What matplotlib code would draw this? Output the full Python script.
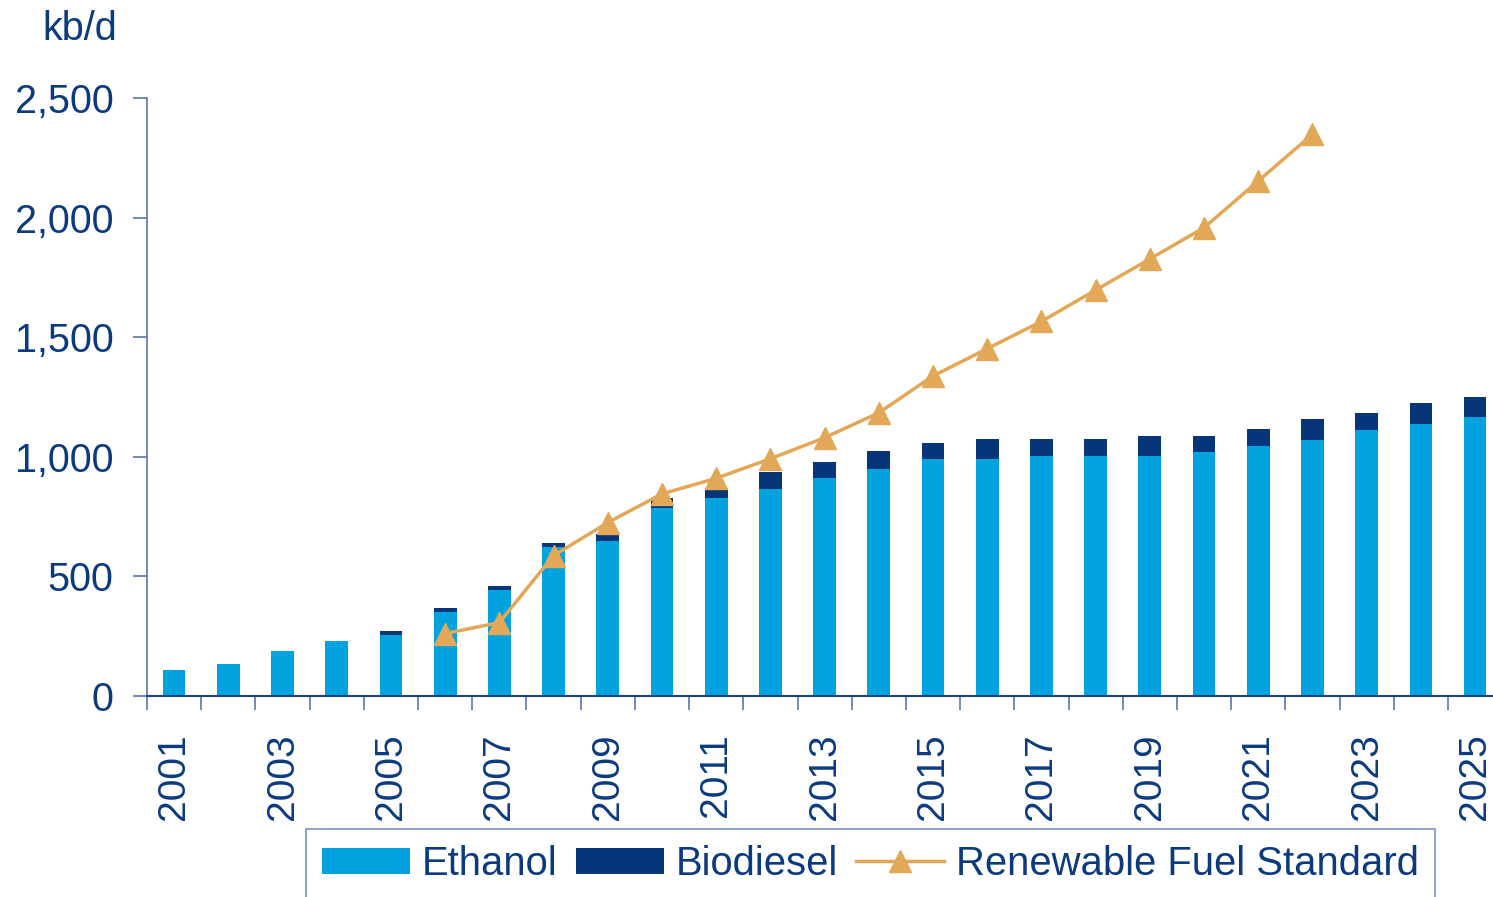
import numpy as np
import matplotlib.pyplot as plt

plt.rcParams['font.family'] = ['Liberation Sans', 'DejaVu Sans']

# US biofuel supply vs. the Renewable Fuel Standard mandate (kb/d)
years = list(range(2001, 2026))
ethanol = [109, 134, 188, 230, 255, 352, 444, 624, 649, 787, 829, 867, 913, 951,
           992, 992, 1005, 1005, 1005, 1018, 1047, 1072, 1114, 1139, 1168]
biodiesel = [0, 0, 0, 0, 17, 16, 17, 17, 29, 42, 34, 71, 67, 72,
             67, 84, 71, 71, 84, 71, 71, 84, 71, 84, 84]
rfs_years = list(range(2006, 2023))
rfs = [261, 307, 587, 725, 845, 910, 992, 1080, 1184, 1338, 1452, 1566, 1697,
       1827, 1958, 2153, 2349]

NAVY = '#0B3A7E'
ETH = '#00A3E0'
BIO = '#06357A'
RFS_C = '#E3A857'
AXIS_C = '#5A77A8'

fig = plt.figure(figsize=(14.93, 8.97), dpi=100)
ax = fig.add_axes([147 / 1493, 1 - 696 / 897, 1 - 147 / 1493, (696 - 98) / 897])

x = np.arange(len(years))
ax.bar(x, ethanol, width=0.42, color=ETH, label='Ethanol', zorder=2)
ax.bar(x, biodiesel, width=0.42, bottom=ethanol, color=BIO, label='Biodiesel', zorder=2)

rx = [years.index(y) for y in rfs_years]
ax.plot(rx, rfs, color=RFS_C, lw=2.5, marker='^', ms=16, mec=RFS_C, mfc=RFS_C,
        label='Renewable Fuel Standard', zorder=3)

ax.set_xlim(-0.5, 24.33)
ax.set_ylim(0, 2500)

for s in ['top', 'right']:
    ax.spines[s].set_visible(False)
ax.spines['left'].set_color(AXIS_C)
ax.spines['bottom'].set_color('#1F4283')
ax.spines['left'].set_linewidth(1.2)
ax.spines['bottom'].set_linewidth(1.5)

ax.set_yticks([0, 500, 1000, 1500, 2000, 2500])
ax.set_yticklabels(['0', '500', '1,000', '1,500', '2,000', '2,500'])
ax.tick_params(axis='y', direction='out', length=10, width=1.2, color=AXIS_C,
               labelcolor=NAVY, labelsize=28.5, pad=14)

# boundary ticks between categories, year labels centred on the bars
ax.set_xticks(np.arange(-0.5, 24.5, 1))
ax.set_xticklabels([])
ax.tick_params(axis='x', which='major', direction='out', length=10, width=1.2, color=AXIS_C)
ax.set_xticks(x, minor=True)
ax.set_xticklabels([str(y) if y % 2 == 1 else '' for y in years], minor=True,
                   rotation=90, fontsize=28, color=NAVY)
ax.tick_params(axis='x', which='minor', length=0, pad=27)

fig.text(42 / 1493, 1 - 40 / 897, 'kb/d', fontsize=28.5, color=NAVY, ha='left', va='baseline')

handles, labels = ax.get_legend_handles_labels()
order = [labels.index(n) for n in ['Ethanol', 'Biodiesel', 'Renewable Fuel Standard']]
leg = fig.legend([handles[i] for i in order], [labels[i] for i in order],
                 loc='upper left', bbox_to_anchor=(306 / 1493, 1 - 829 / 897), ncol=3,
                 fontsize=28.8, frameon=True, fancybox=False, handlelength=2.2,
                 handleheight=0.65, handletextpad=0.3, columnspacing=0.45,
                 borderpad=0.4, borderaxespad=0)
leg.get_frame().set_edgecolor(AXIS_C)
leg.get_frame().set_linewidth(1.2)
for t in leg.get_texts():
    t.set_color(NAVY)

fig.savefig('out.png', dpi=100)
